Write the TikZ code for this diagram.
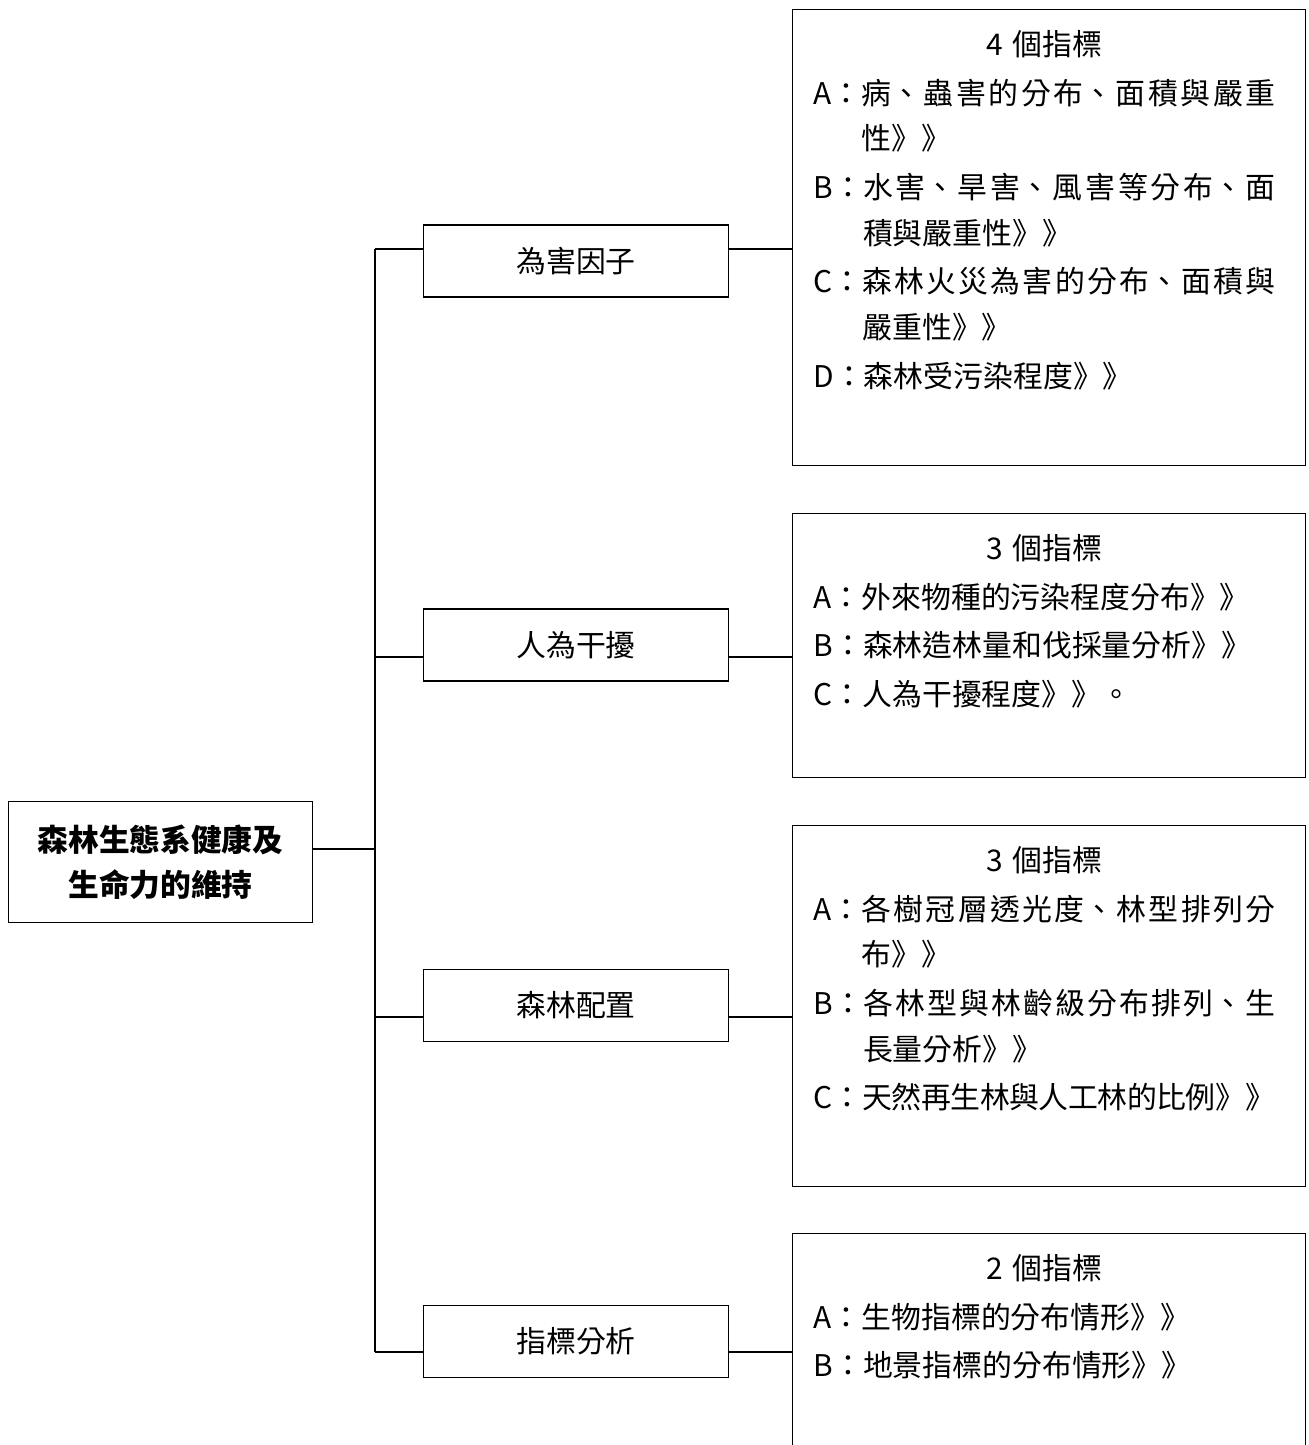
\documentclass[tikz,border=0pt]{standalone}
\usepackage{fontspec}
\setmainfont{Noto Sans CJK TC}
\XeTeXlinebreaklocale "zh"
\XeTeXlinebreakskip=0pt plus 3pt minus .6pt
\XeTeXlinebreakpenalty=10000
% one indicator line: label, then a hanging indent
\newcommand\idx[2]{\par\setbox0=\hbox{#1：}\hangindent=\wd0 \hangafter=1 \noindent\box0 #2}
\begin{document}
\begin{tikzpicture}[x=0.02cm,y=-0.02cm,line width=0.6pt,
    topic/.style={draw,minimum width=6.1cm,minimum height=2.42cm,align=center,
      font=\bfseries\fontsize{17.5}{25.5}\selectfont},
    factor/.style={draw,minimum width=6.1cm,minimum height=1.44cm,
      font=\fontsize{17}{26}\selectfont},
    frame/.style={draw,minimum width=10.26cm,anchor=north west},
    list/.style={anchor=north west,text width=9.24cm,align=justify,inner sep=0pt,
      font=\fontsize{17}{26}\selectfont}]
    \useasboundingbox (0,0) rectangle (1309,1445);
    \clip (0,0) rectangle (1309,1445);
    %
    \node[topic] (root) at (160.5,862) {森林生態系健康及\\生命力的維持};
    \node[factor] (harm)  at (576,261)    {為害因子};
    \node[factor] (human) at (576,645)    {人為干擾};
    \node[factor] (stand) at (576,1005.5) {森林配置};
    \node[factor] (index) at (576,1341.5) {指標分析};
    %
    \node[frame,minimum height=9.12cm] (harm-list)  at (792,9)    {};
    \node[frame,minimum height=5.28cm] (human-list) at (792,513)  {};
    \node[frame,minimum height=7.22cm] (stand-list) at (792,825)  {};
    \node[frame,minimum height=5.2cm]  (index-list) at (792,1233) {};
    %
    \node[list] (harm-text) at ([shift={(21,21)}]harm-list.north west) {\parskip=1.7pt
      \centerline{4\hspace{.3em}個指標}
      \idx{A}{病、蟲害的分布、面積與嚴重\linebreak 性》》}
      \idx{B}{水害、旱害、風害等分布、面\linebreak 積與嚴重性》》}
      \idx{C}{森林火災為害的分布、面積與\linebreak 嚴重性》》}
      \idx{D}{森林受污染程度》》}};
    \node[list] (human-text) at ([shift={(21,21)}]human-list.north west) {\parskip=1.7pt
      \centerline{3\hspace{.3em}個指標}
      \idx{A}{外來物種的污染程度分布》》}
      \idx{B}{森林造林量和伐採量分析》》}
      \idx{C}{人為干擾程度》》。}};
    \node[list] (stand-text) at ([shift={(21,21)}]stand-list.north west) {\parskip=1.7pt
      \centerline{3\hspace{.3em}個指標}
      \idx{A}{各樹冠層透光度、林型排列分\linebreak 布》》}
      \idx{B}{各林型與林齡級分布排列、生\linebreak 長量分析》》}
      \idx{C}{天然再生林與人工林的比例》》}};
    \node[list] (index-text) at ([shift={(21,21)}]index-list.north west) {\parskip=1.7pt
      \centerline{2\hspace{.3em}個指標}
      \idx{A}{生物指標的分布情形》》}
      \idx{B}{地景指標的分布情形》》}};
    %
    \coordinate (j0) at (375,849);
    \coordinate (j1) at (375,249);
    \coordinate (j2) at (375,657);
    \coordinate (j3) at (375,1017);
    \coordinate (j4) at (375,1352);
    \draw (j1) -- (j4);
    \draw (root.east |- j0) -- (j0);
    \foreach \n/\j in {harm/j1,human/j2,stand/j3,index/j4}
      \draw (\j) -- (\n.west |- \j) (\n.east |- \j) -- (\n-list.west |- \j);
  \end{tikzpicture}
\end{document}
